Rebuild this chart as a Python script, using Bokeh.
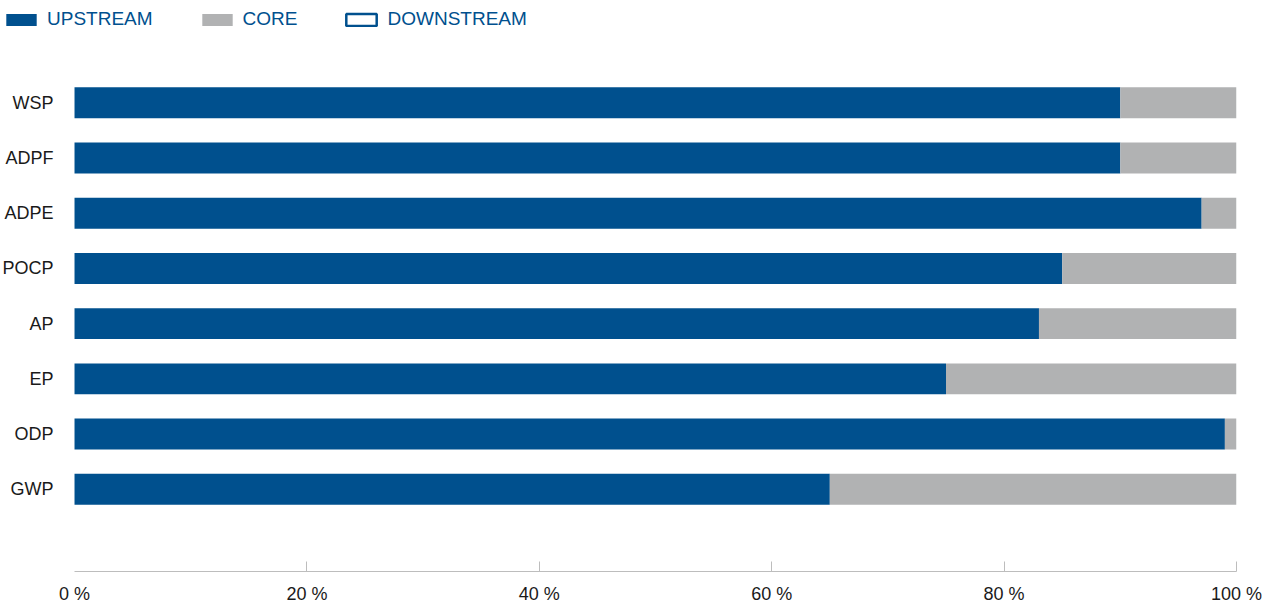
from bokeh.plotting import figure
from bokeh.models import Range1d, FixedTicker, Legend, LegendItem, ColumnDataSource
from bokeh.core.properties import value
from bokeh.transform import stack
from bokeh.embed import file_html
from bokeh.resources import INLINE

categories = ["WSP", "ADPF", "ADPE", "POCP", "AP", "EP", "ODP", "GWP"]
upstream = [90, 90, 97, 85, 83, 75, 99, 65]
core = [10, 10, 3, 15, 17, 25, 1, 35]
downstream = [0, 0, 0, 0, 0, 0, 0, 0]
series_names = ["UPSTREAM", "CORE", "DOWNSTREAM"]
x_ticks = [0, 20, 40, 60, 80, 100]
x_tick_labels = ["0 %", "20 %", "40 %", "60 %", "80 %", "100 %"]

BLUE = "#00508E"
GRAY = "#B1B2B3"
AXIS_GRAY = "#BDBDBD"
TEXT = "#1a1a1a"
FONT = "Liberation Sans"

n = len(categories)
ypos = [n - 1 - i for i in range(n)]
src = ColumnDataSource(dict(y=ypos, cat=categories, up=upstream, core=core, down=downstream,
                            base=[0] * n))

# frame spans the whole width; the left part holds the category labels and legend
p = figure(width=1270, height=606, output_backend="svg", toolbar_location=None,
           x_range=Range1d(-6.37, 100), y_range=Range1d(-1.490, 8.8535),
           y_axis_location=None,
           min_border_left=0, min_border_right=34, min_border_top=0, min_border_bottom=34)

bh = 0.56
r_up = p.hbar(y="y", left="base", right="up", height=bh, fill_color=BLUE, line_color=None,
              source=src)
r_core = p.hbar(y="y", left=stack("up"), right=stack("up", "core"), height=bh,
                fill_color=GRAY, line_color=None, source=src)
p.hbar(y="y", left=stack("up", "core"), right=stack("up", "core", "down"), height=bh,
       fill_color="white", line_color=None, source=src)
# legend swatch for the (empty) downstream share: outlined box
r_down_key = p.hbar(y="y", left=stack("up", "core"), right=stack("up", "core", "down"),
                    height=bh, fill_color="white", line_color=BLUE, line_width=2.5,
                    source=src, visible=False)

# category labels, right-aligned just left of the bars' baseline
p.text(x="base", y="y", text="cat", source=src, x_offset=-21,
       text_align="right", text_baseline="middle",
       text_font=value(FONT), text_font_size="18px", text_color=TEXT)

legend = Legend(items=[LegendItem(label=series_names[0], renderers=[r_up]),
                       LegendItem(label=series_names[1], renderers=[r_core]),
                       LegendItem(label=series_names[2], renderers=[r_down_key])],
                orientation="horizontal", location=(2, 541),
                padding=0, margin=0, border_line_color=None, background_fill_alpha=0,
                inactive_fill_alpha=0,
                label_text_font=FONT, label_text_font_size="19px", label_text_color=BLUE,
                glyph_width=38, glyph_height=15, label_standoff=7, spacing=45)
p.add_layout(legend)

# labels at every tick; tick marks (drawn as minor ticks) only from 20 % onward
p.xaxis.ticker = FixedTicker(ticks=x_ticks, minor_ticks=x_ticks[1:])
p.xaxis.bounds = (0, 100)
p.xaxis.major_label_overrides = {t: l for t, l in zip(x_ticks, x_tick_labels)}
p.xaxis.major_tick_line_color = None
p.xaxis.major_tick_in = 0
p.xaxis.major_tick_out = 0
p.xaxis.minor_tick_line_color = AXIS_GRAY
p.xaxis.minor_tick_in = 10
p.xaxis.minor_tick_out = 0
p.xaxis.axis_line_color = AXIS_GRAY
p.xaxis.major_label_text_font = FONT
p.xaxis.major_label_text_font_size = "18px"
p.xaxis.major_label_text_color = TEXT
p.xaxis.major_label_standoff = 12

p.grid.visible = False
p.outline_line_color = None
p.background_fill_color = "white"
p.border_fill_color = "white"

open("out.html", "w").write(file_html(p, INLINE))
